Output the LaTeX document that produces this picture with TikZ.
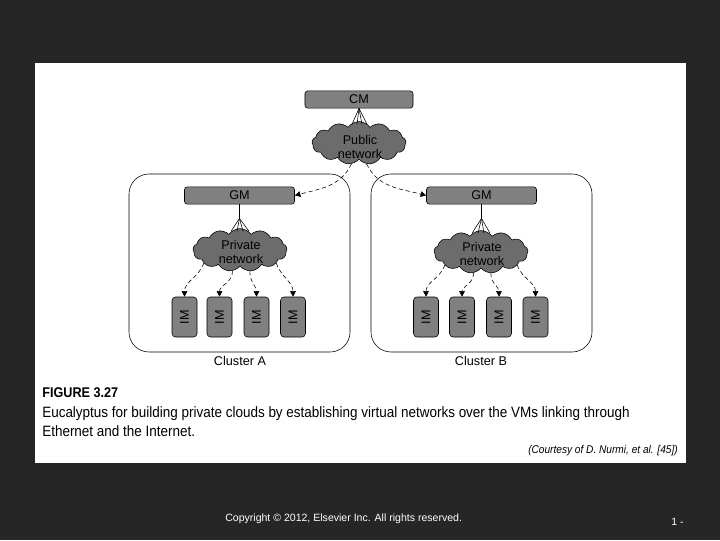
\documentclass[tikz,border=0pt]{standalone}
\usepackage{fontspec}
\setmainfont{Liberation Sans}
\newfontfamily\capfont[FakeStretch=0.9]{Liberation Sans}
\usetikzlibrary{arrows.meta,positioning,shapes.symbols,calc}
\definecolor{slidebg}{RGB}{38,38,38}
\definecolor{boxgray}{RGB}{128,128,128}
\definecolor{cloudgray}{RGB}{108,108,108}

\tikzset{
  mgrbox/.style={draw, fill=boxgray, rounded corners=2pt, minimum width=2.75cm,
    minimum height=0.43cm, inner sep=0pt, font=\fontsize{9}{10}\selectfont},
  netcloud/.style={cloud, cloud puffs=13, cloud puff arc=110, draw, fill=cloudgray,
    minimum width=2.35cm, minimum height=1.07cm, inner sep=0pt},
  netlabel/.style={align=center, inner sep=0pt, font=\fontsize{9}{10.5}\selectfont},
  imbox/.style={draw, fill=boxgray, rounded corners=2.5pt, minimum width=0.625cm,
    minimum height=1cm, inner sep=0pt, font=\fontsize{9}{10}\selectfont},
  clusterbox/.style={draw, rounded corners=0.5cm},
  netarrow/.style={densely dashed, -{Triangle[length=4pt,width=4pt]}},
}

\begin{document}
\begin{tikzpicture}[x=0.025cm, y=0.025cm]
        \useasboundingbox (0,0) rectangle (720,-540);
        \fill[slidebg] (0,0) rectangle (720,-540);
        \fill[white] (35,-63) rectangle (686,-463);
        % Clusters
        \draw[clusterbox] (129,-174) rectangle (350,-352);
        \draw[clusterbox] (371,-174) rectangle (592,-352);
        \node[font=\fontsize{9}{10}\selectfont] (clA) at (240,-361) {Cluster A};
        \node[font=\fontsize{9}{10}\selectfont] (clB) at (481,-361) {Cluster B};
        % Cloud manager and public network
        \node[mgrbox, minimum width=2.7cm] (cm) at (359,-99.5) {CM};
        \node[netcloud] (pubnet) at (359,-143) {};
        \node[netlabel] (pubnetlbl) at (360,-147) {Public\\network};
        \foreach \dx in {-7,-2,3,8}
            \draw (cm.south) -- ($(pubnet.north)+(\dx,-3)$);
        % Group managers
        \node[mgrbox] (gmA) at (239.5,-195.5) {GM};
        \node[mgrbox] (gmB) at (481.5,-195.5) {GM};
        \draw[netarrow] (pubnet.250) to[out=245,in=15] (gmA.east);
        \draw[netarrow] (pubnet.290) to[out=295,in=165] (gmB.west);
        % Private networks
        \node[netcloud] (privA) at (240,-250) {};
        \node[netcloud] (privB) at (481,-252) {};
        \node[netlabel] (privAlbl) at (241,-252) {Private\\network};
        \node[netlabel] (privBlbl) at (482,-254) {Private\\network};
        \draw (gmA.south) -- ++(0,-14) coordinate (splitA);
        \draw (gmB.south) -- ++(0,-14) coordinate (splitB);
        \foreach \dx in {-9,-3,3,9} {
            \draw (splitA) -- ($(privA.north)+(\dx,-3)$);
            \draw (splitB) -- ($(privB.north)+(\dx,-3)$);
        }
        % Instance managers
        \foreach \x [count=\i] in {184.5,219.5,256.5,293}
            \node[imbox] (imA\i) at (\x,-317) {\rotatebox{90}{IM}};
        \foreach \x [count=\i] in {426,462,499,535.5}
            \node[imbox] (imB\i) at (\x,-317) {\rotatebox{90}{IM}};
        \draw[netarrow] (privA.200) to[out=250,in=90] (imA1.north);
        \draw[netarrow] (privA.250) to[out=275,in=90] (imA2.north);
        \draw[netarrow] (privA.295) to[out=268,in=90] (imA3.north);
        \draw[netarrow] (privA.340) to[out=290,in=90] (imA4.north);
        \draw[netarrow] (privB.200) to[out=250,in=90] (imB1.north);
        \draw[netarrow] (privB.250) to[out=275,in=90] (imB2.north);
        \draw[netarrow] (privB.295) to[out=268,in=90] (imB3.north);
        \draw[netarrow] (privB.340) to[out=290,in=90] (imB4.north);
        % Caption
        \node[anchor=base west, inner sep=0pt, font=\capfont\bfseries\fontsize{10}{12}\selectfont] (figno) at (42,-397) {FIGURE 3.27};
        \node[anchor=base west, inner sep=0pt, font=\capfont\fontsize{10.65}{12}\selectfont] (figtext1) at (42,-417)
            {Eucalyptus for building private clouds by establishing virtual networks over the VMs linking through};
        \node[anchor=base west, inner sep=0pt, font=\capfont\fontsize{10.65}{12}\selectfont] (figtext2) at (42,-436)
            {Ethernet and the Internet.};
        \node[anchor=base east, inner sep=0pt, font=\capfont\itshape\fontsize{8}{9}\selectfont] (credit) at (678,-453) {(Courtesy of D. Nurmi, et al. [45])};
        % Footer
        \node[anchor=base west, inner sep=0pt, text=white, font=\fontsize{7.5}{9}\selectfont] (copy) at (225,-521) {Copyright © 2012, Elsevier Inc. All rights reserved.};
        \node[anchor=base west, inner sep=0pt, text=white, font=\fontsize{7.5}{9}\selectfont] (pageno) at (671,-525) {1 -};
    \end{tikzpicture}
\end{document}
